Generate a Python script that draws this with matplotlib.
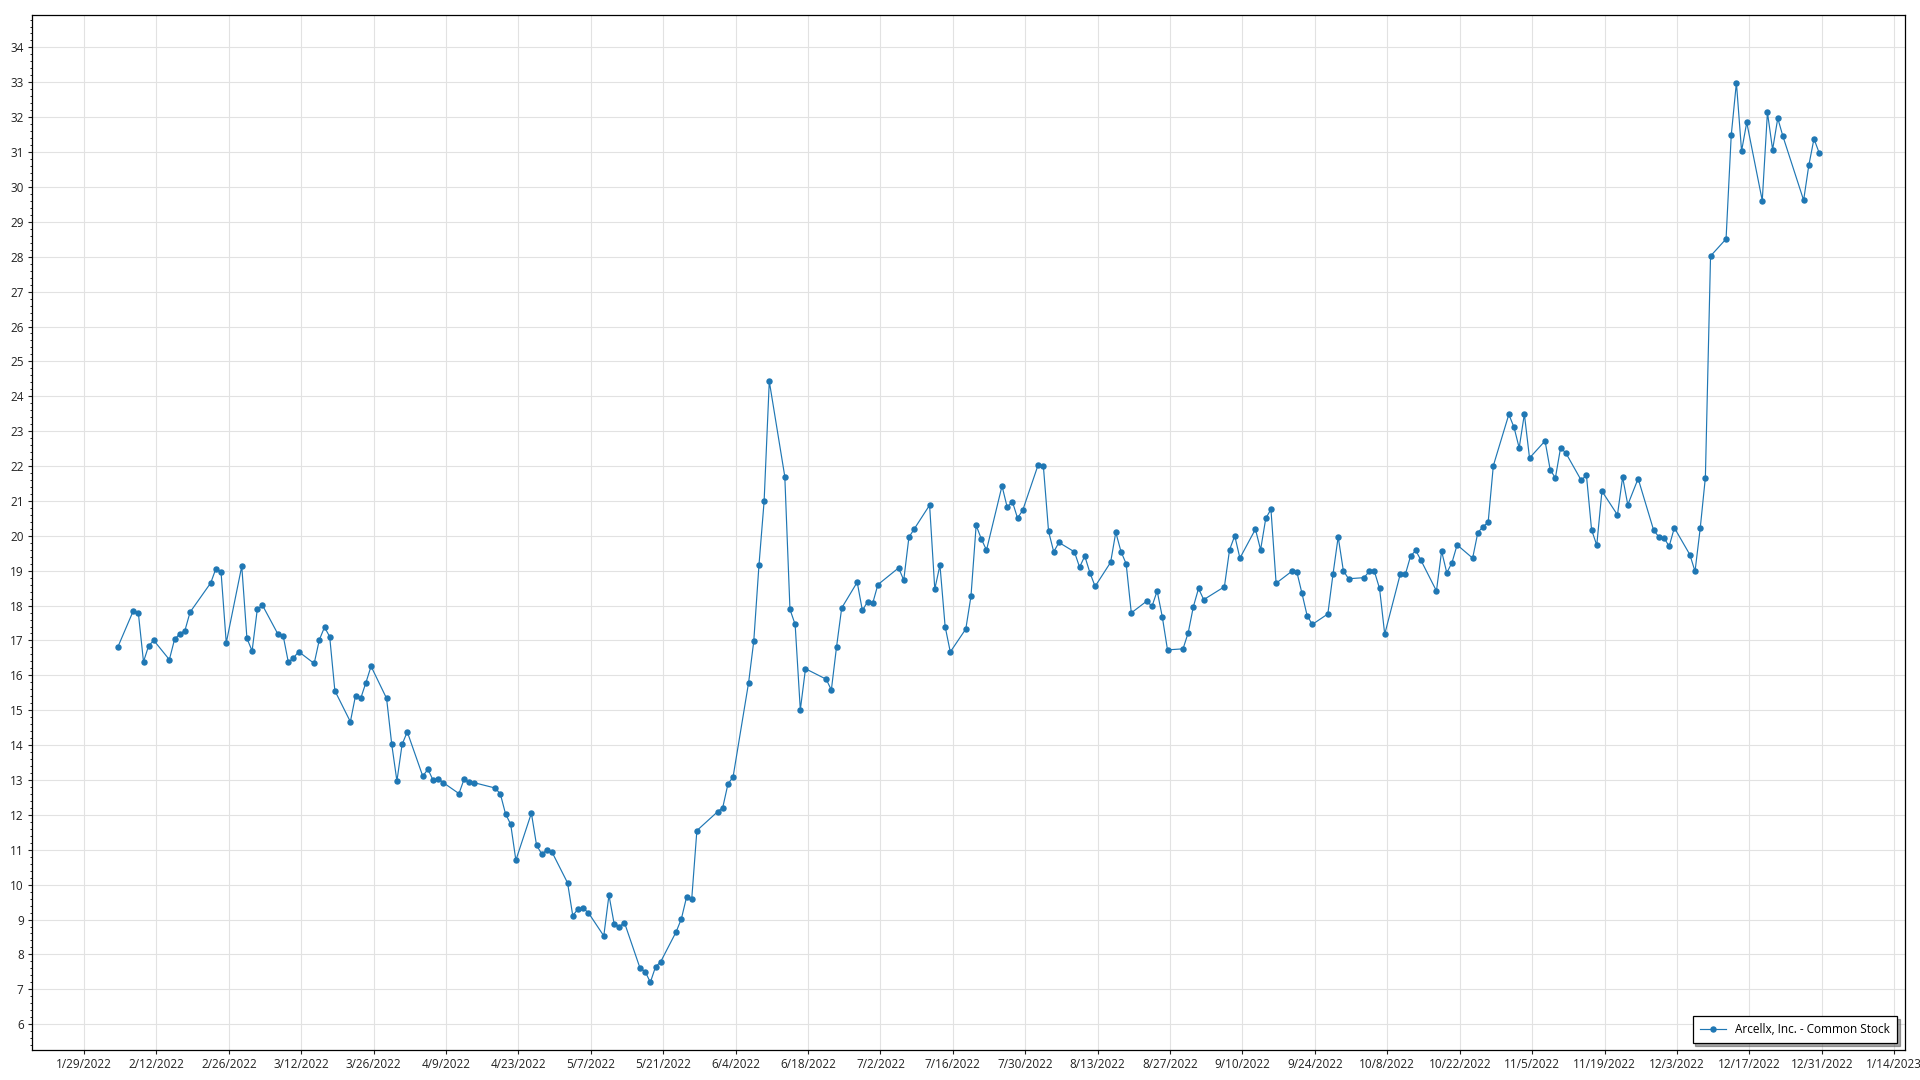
import matplotlib
matplotlib.use("Agg")
import matplotlib.pyplot as plt
from matplotlib.ticker import MultipleLocator
import pandas as pd

plt.rcParams['font.family'] = ['Open Sans', 'DejaVu Sans']

# daily closes (2022)
trade_dates = (
    ["2022-02-%02d" % d for d in [4, 7, 8, 9, 10, 11, 14, 15, 16, 17, 18, 22, 23, 24, 25, 28]]
    + ["2022-03-%02d" % d for d in [1, 2, 3, 4, 7, 8, 9, 10, 11, 14, 15, 16, 17, 18, 21, 22, 23, 24, 25, 28, 29, 30, 31]]
    + ["2022-04-%02d" % d for d in [1, 4, 5, 6, 7, 8, 11, 12, 13, 14, 18, 19, 20, 21, 22, 25, 26, 27, 28, 29]]
    + ["2022-05-%02d" % d for d in [2, 3, 4, 5, 6, 9, 10, 11, 12, 13, 16, 17, 18, 19, 20, 23, 24, 25, 26, 27, 31]]
    + ["2022-06-%02d" % d for d in [1, 2, 3, 6, 7, 8, 9, 10, 13, 14, 15, 16, 17, 21, 22, 23, 24, 27, 28, 29, 30]]
    + ["2022-07-%02d" % d for d in [1, 5, 6, 7, 8, 11, 12, 13, 14, 15, 18, 19, 20, 21, 22, 25, 26, 27, 28, 29]]
    + ["2022-08-%02d" % d for d in [1, 2, 3, 4, 5, 8, 9, 10, 11, 12, 15, 16, 17, 18, 19, 22, 23, 24, 25, 26, 29, 30, 31]]
    + ["2022-09-%02d" % d for d in [1, 2, 6, 7, 8, 9, 12, 13, 14, 15, 16, 19, 20, 21, 22, 23, 26, 27, 28, 29, 30]]
    + ["2022-10-%02d" % d for d in [3, 4, 5, 6, 7, 10, 11, 12, 13, 14, 17, 18, 19, 20, 21, 24, 25, 26, 27, 28, 31]]
    + ["2022-11-%02d" % d for d in [1, 2, 3, 4, 7, 8, 9, 10, 11, 14, 15, 16, 17, 18, 21, 22, 23, 25, 28, 29, 30]]
    + ["2022-12-%02d" % d for d in [1, 2, 5, 6, 7, 8, 9, 12, 13, 14, 15, 16, 19, 20, 21, 22, 23, 27, 28, 29, 30]]
)

prices = [
    16.80, 17.84, 17.79, 16.39, 16.85, 17.00, 16.45, 17.03, 17.19, 17.28, 17.81, 18.65, 19.06, 18.95, 16.93, 19.13,
    17.06, 16.70, 17.89, 18.01, 17.18, 17.14, 16.38, 16.50, 16.68, 16.34, 17.02, 17.38, 17.11, 15.56, 14.67, 15.42,
    15.34, 15.79, 16.26, 15.34, 14.02, 12.97, 14.02,
    14.38, 13.11, 13.31, 12.99, 13.04, 12.92, 12.61, 13.03, 12.93, 12.92, 12.77, 12.60, 12.03, 11.73, 10.70, 12.05,
    11.13, 10.88, 10.99, 10.93,
    10.05, 9.11, 9.30, 9.32, 9.20, 8.53, 9.70, 8.88, 8.80, 8.91, 7.61, 7.51, 7.20, 7.64, 7.79, 8.65, 9.02, 9.64, 9.58,
    11.55, 12.09,
    12.21, 12.88, 13.09, 15.79, 16.98, 19.15, 20.99, 24.43, 21.70, 17.89, 17.46, 15.01, 16.19, 15.89, 15.58, 16.81,
    17.93, 18.67, 17.86, 18.11, 18.07,
    18.60, 19.08, 18.73, 19.96, 20.19, 20.88, 18.47, 19.16, 17.40, 16.67, 17.33, 18.27, 20.30, 19.91, 19.59, 21.43,
    20.82, 20.98, 20.51, 20.73,
    22.04, 21.99, 20.13, 19.54, 19.81, 19.54, 19.10, 19.42, 18.94, 18.55, 19.24, 20.10, 19.55, 19.20, 17.79, 18.13,
    17.98, 18.42, 17.67, 16.73, 16.76, 17.22, 17.97,
    18.49, 18.17, 18.54, 19.60, 20.00, 19.36, 20.19, 19.60, 20.50, 20.76, 18.64, 18.98, 18.97, 18.35, 17.71, 17.46,
    17.76, 18.90, 19.97, 19.00, 18.77,
    18.80, 18.98, 18.98, 18.49, 17.18, 18.90, 18.90, 19.42, 19.58, 19.30, 18.42, 19.56, 18.94, 19.23, 19.74, 19.36,
    20.09, 20.26, 20.39, 22.01, 23.48,
    23.11, 22.52, 23.49, 22.23, 22.72, 21.89, 21.66, 22.52, 22.38, 21.59, 21.74, 20.17, 19.73, 21.28, 20.60, 21.68,
    20.89, 21.64, 20.16, 19.97, 19.94,
    19.70, 20.23, 19.46, 18.98, 20.21, 21.67, 28.02, 28.51, 31.48, 32.99, 31.03, 31.85, 29.61, 32.14, 31.07, 31.97,
    31.45, 29.62, 30.62, 31.38, 30.98,
]

series_name = "Arcellx, Inc. - Common Stock"

x = pd.to_datetime(trade_dates) + pd.Timedelta(hours=12)

fig = plt.figure(figsize=(19.2, 10.8), dpi=100)
ax = fig.add_axes([32 / 1920, 30 / 1080, 1873 / 1920, 1035 / 1080])

ax.plot(x, prices, color="#1f77b4", lw=0.85, marker="o", ms=3.6, label=series_name, zorder=3)

# axes ranges
t0 = pd.Timestamp("2022-01-29")
ax.set_xlim(t0 - pd.Timedelta(days=10.06), t0 + pd.Timedelta(days=352.1))
ax.set_ylim(5.26, 34.93)

xticks = pd.date_range("2022-01-29", "2023-01-14", freq="14D")
ax.set_xticks(xticks)
ax.set_xticklabels([f"{d.month}/{d.day}/{d.year}" for d in xticks])
ax.yaxis.set_major_locator(MultipleLocator(1))
ax.yaxis.set_minor_locator(MultipleLocator(0.2))

ax.tick_params(axis="both", which="major", length=3, width=0.8, labelsize=8.5, colors="#222222", pad=3)
ax.tick_params(axis="y", which="minor", length=1.5, width=0.6)
ax.grid(True, which="major", color="#e2e2e2", lw=0.8)
ax.set_axisbelow(True)
for s in ax.spines.values():
    s.set_linewidth(0.9)
    s.set_color("black")

leg = ax.legend(loc="lower right", bbox_to_anchor=(1 - 8 / 1873, 7 / 1035), borderaxespad=0,
                fancybox=False, shadow=True, edgecolor="black", fontsize=8.5, handlelength=2.2,
                borderpad=0.6)
leg.get_frame().set_linewidth(0.9)

fig.savefig("out.png", dpi=100)
